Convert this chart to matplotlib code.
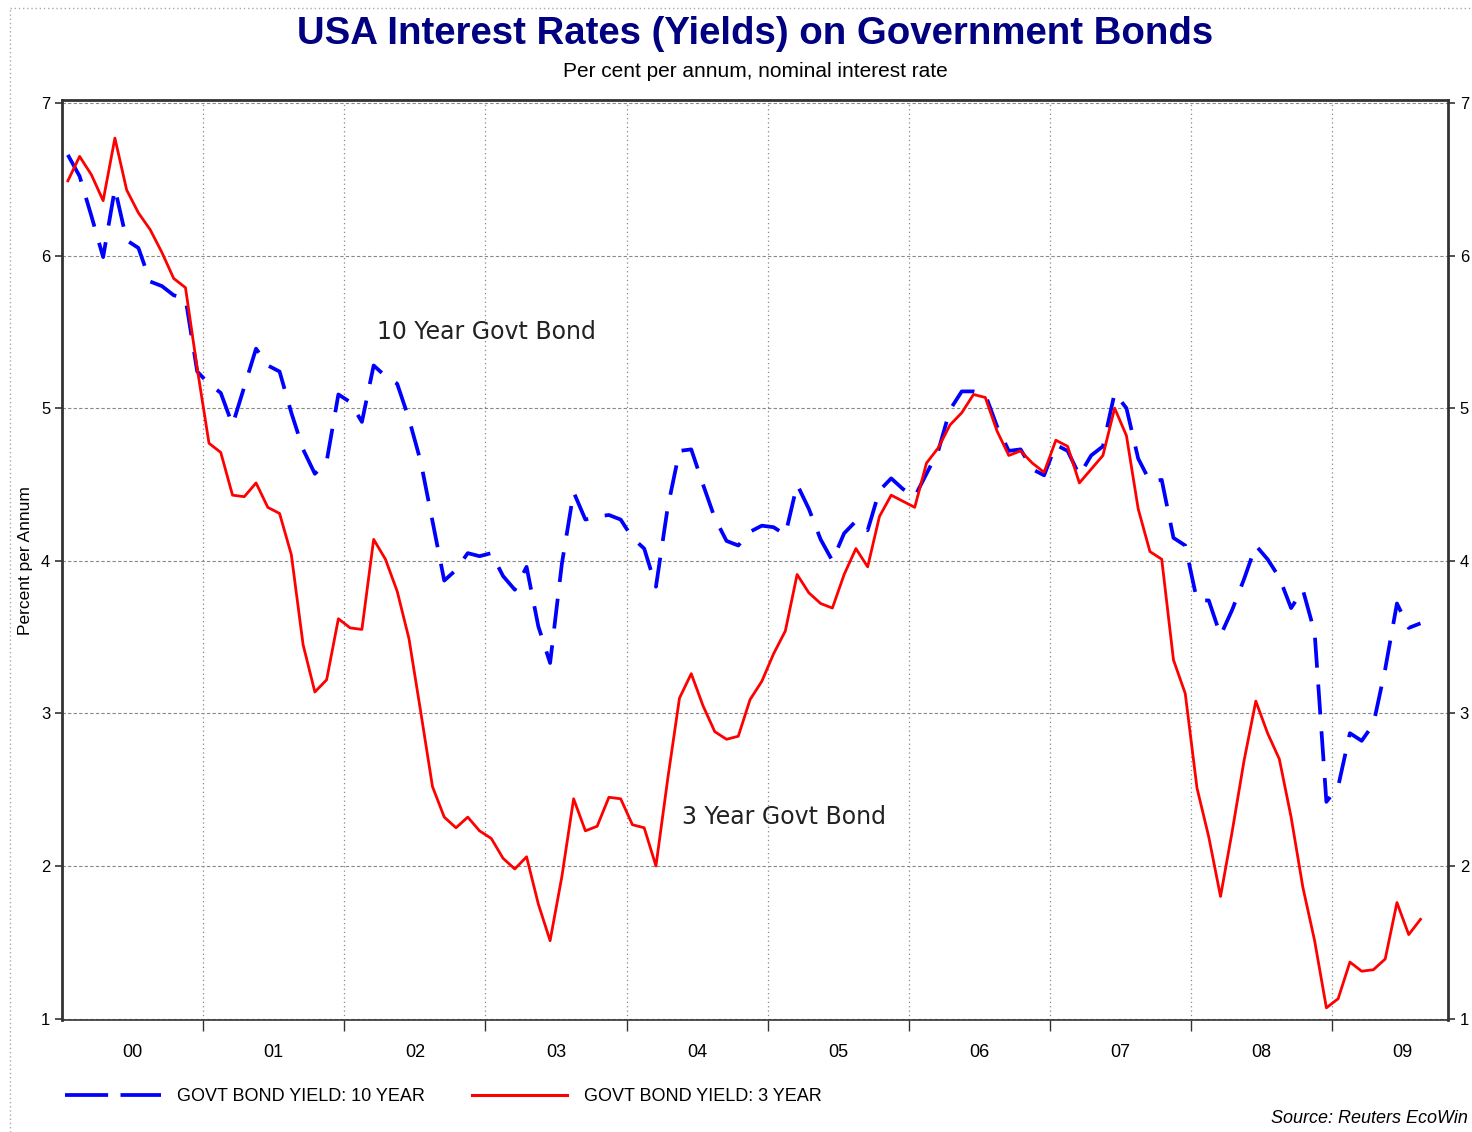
import numpy as np
import matplotlib.pyplot as plt
from matplotlib.lines import Line2D

# monthly yields, Jan 2000 .. Aug 2009 (per cent)
start_year = 2000
yield_10y = [6.66, 6.52, 6.26, 5.99, 6.44, 6.10, 6.05, 5.83, 5.80, 5.74, 5.72, 5.24,
             5.16, 5.10, 4.89, 5.14, 5.39, 5.28, 5.24, 4.97, 4.73, 4.57, 4.65, 5.09,
             5.04, 4.91, 5.28, 5.21, 5.16, 4.93, 4.65, 4.26, 3.87, 3.94, 4.05, 4.03,
             4.05, 3.90, 3.81, 3.96, 3.57, 3.33, 3.98, 4.45, 4.27, 4.29, 4.30, 4.27,
             4.15, 4.08, 3.83, 4.35, 4.72, 4.73, 4.50, 4.28, 4.13, 4.10, 4.19, 4.23,
             4.22, 4.17, 4.50, 4.34, 4.14, 4.00, 4.18, 4.26, 4.20, 4.46, 4.54, 4.47,
             4.42, 4.57, 4.72, 4.99, 5.11, 5.11, 5.09, 4.88, 4.72, 4.73, 4.60, 4.56,
             4.76, 4.72, 4.56, 4.69, 4.75, 5.10, 5.00, 4.67, 4.52, 4.53, 4.15, 4.10,
             3.74, 3.74, 3.51, 3.68, 3.88, 4.10, 4.01, 3.89, 3.69, 3.81, 3.53, 2.42,
             2.52, 2.87, 2.82, 2.93, 3.29, 3.72, 3.56, 3.59]
yield_3y = [6.49, 6.65, 6.53, 6.36, 6.77, 6.43, 6.28, 6.17, 6.02, 5.85, 5.79, 5.26,
            4.77, 4.71, 4.43, 4.42, 4.51, 4.35, 4.31, 4.04, 3.45, 3.14, 3.22, 3.62,
            3.56, 3.55, 4.14, 4.01, 3.80, 3.49, 3.01, 2.52, 2.32, 2.25, 2.32, 2.23,
            2.18, 2.05, 1.98, 2.06, 1.75, 1.51, 1.93, 2.44, 2.23, 2.26, 2.45, 2.44,
            2.27, 2.25, 2.00, 2.57, 3.10, 3.26, 3.05, 2.88, 2.83, 2.85, 3.09, 3.21,
            3.39, 3.54, 3.91, 3.79, 3.72, 3.69, 3.91, 4.08, 3.96, 4.29, 4.43, 4.39,
            4.35, 4.64, 4.74, 4.89, 4.97, 5.09, 5.07, 4.85, 4.69, 4.72, 4.64, 4.58,
            4.79, 4.75, 4.51, 4.60, 4.69, 5.00, 4.82, 4.34, 4.06, 4.01, 3.35, 3.13,
            2.51, 2.19, 1.80, 2.23, 2.69, 3.08, 2.87, 2.70, 2.32, 1.86, 1.51, 1.07,
            1.13, 1.37, 1.31, 1.32, 1.39, 1.76, 1.55, 1.65]
year_labels = ['00', '01', '02', '03', '04', '05', '06', '07', '08', '09']

months = np.arange(len(yield_10y))
t = start_year + (months + 0.5) / 12

plt.rcParams['font.family'] = ['Liberation Sans', 'DejaVu Sans']

fig = plt.figure(figsize=(14.72, 11.32), dpi=100)
ax = fig.add_axes([0.0421, 0.0989, 0.9416, 0.8128])

ax.plot(t, yield_10y, color='#0000ff', lw=2.7, linestyle=(0, (8, 4.5)))
ax.plot(t, yield_3y, color='#ff0000', lw=2.0)

ax.set_xlim(start_year, start_year + 9.82)
ax.set_ylim(0.99, 7.02)

years = np.arange(start_year, start_year + len(year_labels))
ax.set_xticks(years[1:])
ax.set_xticklabels([])
ax.set_xticks(years + 0.5, minor=True)
ax.set_xticklabels(year_labels, minor=True, fontsize=13)
ax.tick_params(axis='x', which='major', direction='out', length=8, width=1, color='#333333')
ax.tick_params(axis='x', which='minor', length=0, pad=17)

ax.set_yticks(np.arange(1, 8))
ax.set_yticklabels([str(v) for v in range(1, 8)])
ax.tick_params(axis='y', direction='out', length=5, width=1.2, labelsize=12,
               right=True, labelright=True, color='#333333')

ax.grid(axis='y', color='#888888', linestyle=(0, (3, 2)), lw=0.8)
ax.grid(axis='x', which='major', color='#888888', linestyle=(0, (1, 2.5)), lw=0.9)
ax.set_axisbelow(True)
for s in ax.spines.values():
    s.set_color('#333333')
    s.set_linewidth(2)
ax.spines['bottom'].set_linewidth(1.2)

ax.text(2002.23, 5.50, '10 Year Govt Bond', fontsize=17, family='DejaVu Sans',
        color='#222222', va='center')
ax.text(2004.39, 2.32, '3 Year Govt Bond', fontsize=17, family='DejaVu Sans',
        color='#222222', va='center')

fig.text(0.513, 0.970, 'USA Interest Rates (Yields) on Government Bonds', ha='center',
         va='center', fontsize=27.6, fontweight='bold', color='#000080')
fig.text(0.513, 0.937, 'Per cent per annum, nominal interest rate', ha='center',
         va='center', fontsize=15)
fig.text(0.017, 0.505, 'Percent per Annum', rotation=90, ha='center', va='center',
         fontsize=12.5)
fig.text(0.997, 0.012, 'Source: Reuters EcoWin', ha='right', va='center',
         fontsize=13, style='italic')

handles = [Line2D([], [], color='#0000ff', lw=2.7, linestyle=(0, (11.5, 3.3))),
           Line2D([], [], color='#ff0000', lw=2.2)]
fig.legend(handles, ['GOVT BOND YIELD: 10 YEAR', 'GOVT BOND YIELD: 3 YEAR'],
           loc='center left', bbox_to_anchor=(0.033, 0.031), ncol=2, frameon=False,
           fontsize=13, handlelength=5.3, handletextpad=0.9, columnspacing=2.6)

# dotted frame round the picture
fig.add_artist(Line2D([0.007, 0.007], [0.0, 0.993], color='#aaaaaa', lw=1,
                      linestyle=(0, (1, 2)), transform=fig.transFigure))
fig.add_artist(Line2D([0.007, 1.0], [0.993, 0.993], color='#aaaaaa', lw=1,
                      linestyle=(0, (1, 2)), transform=fig.transFigure))

fig.savefig('out.png', dpi=100)
